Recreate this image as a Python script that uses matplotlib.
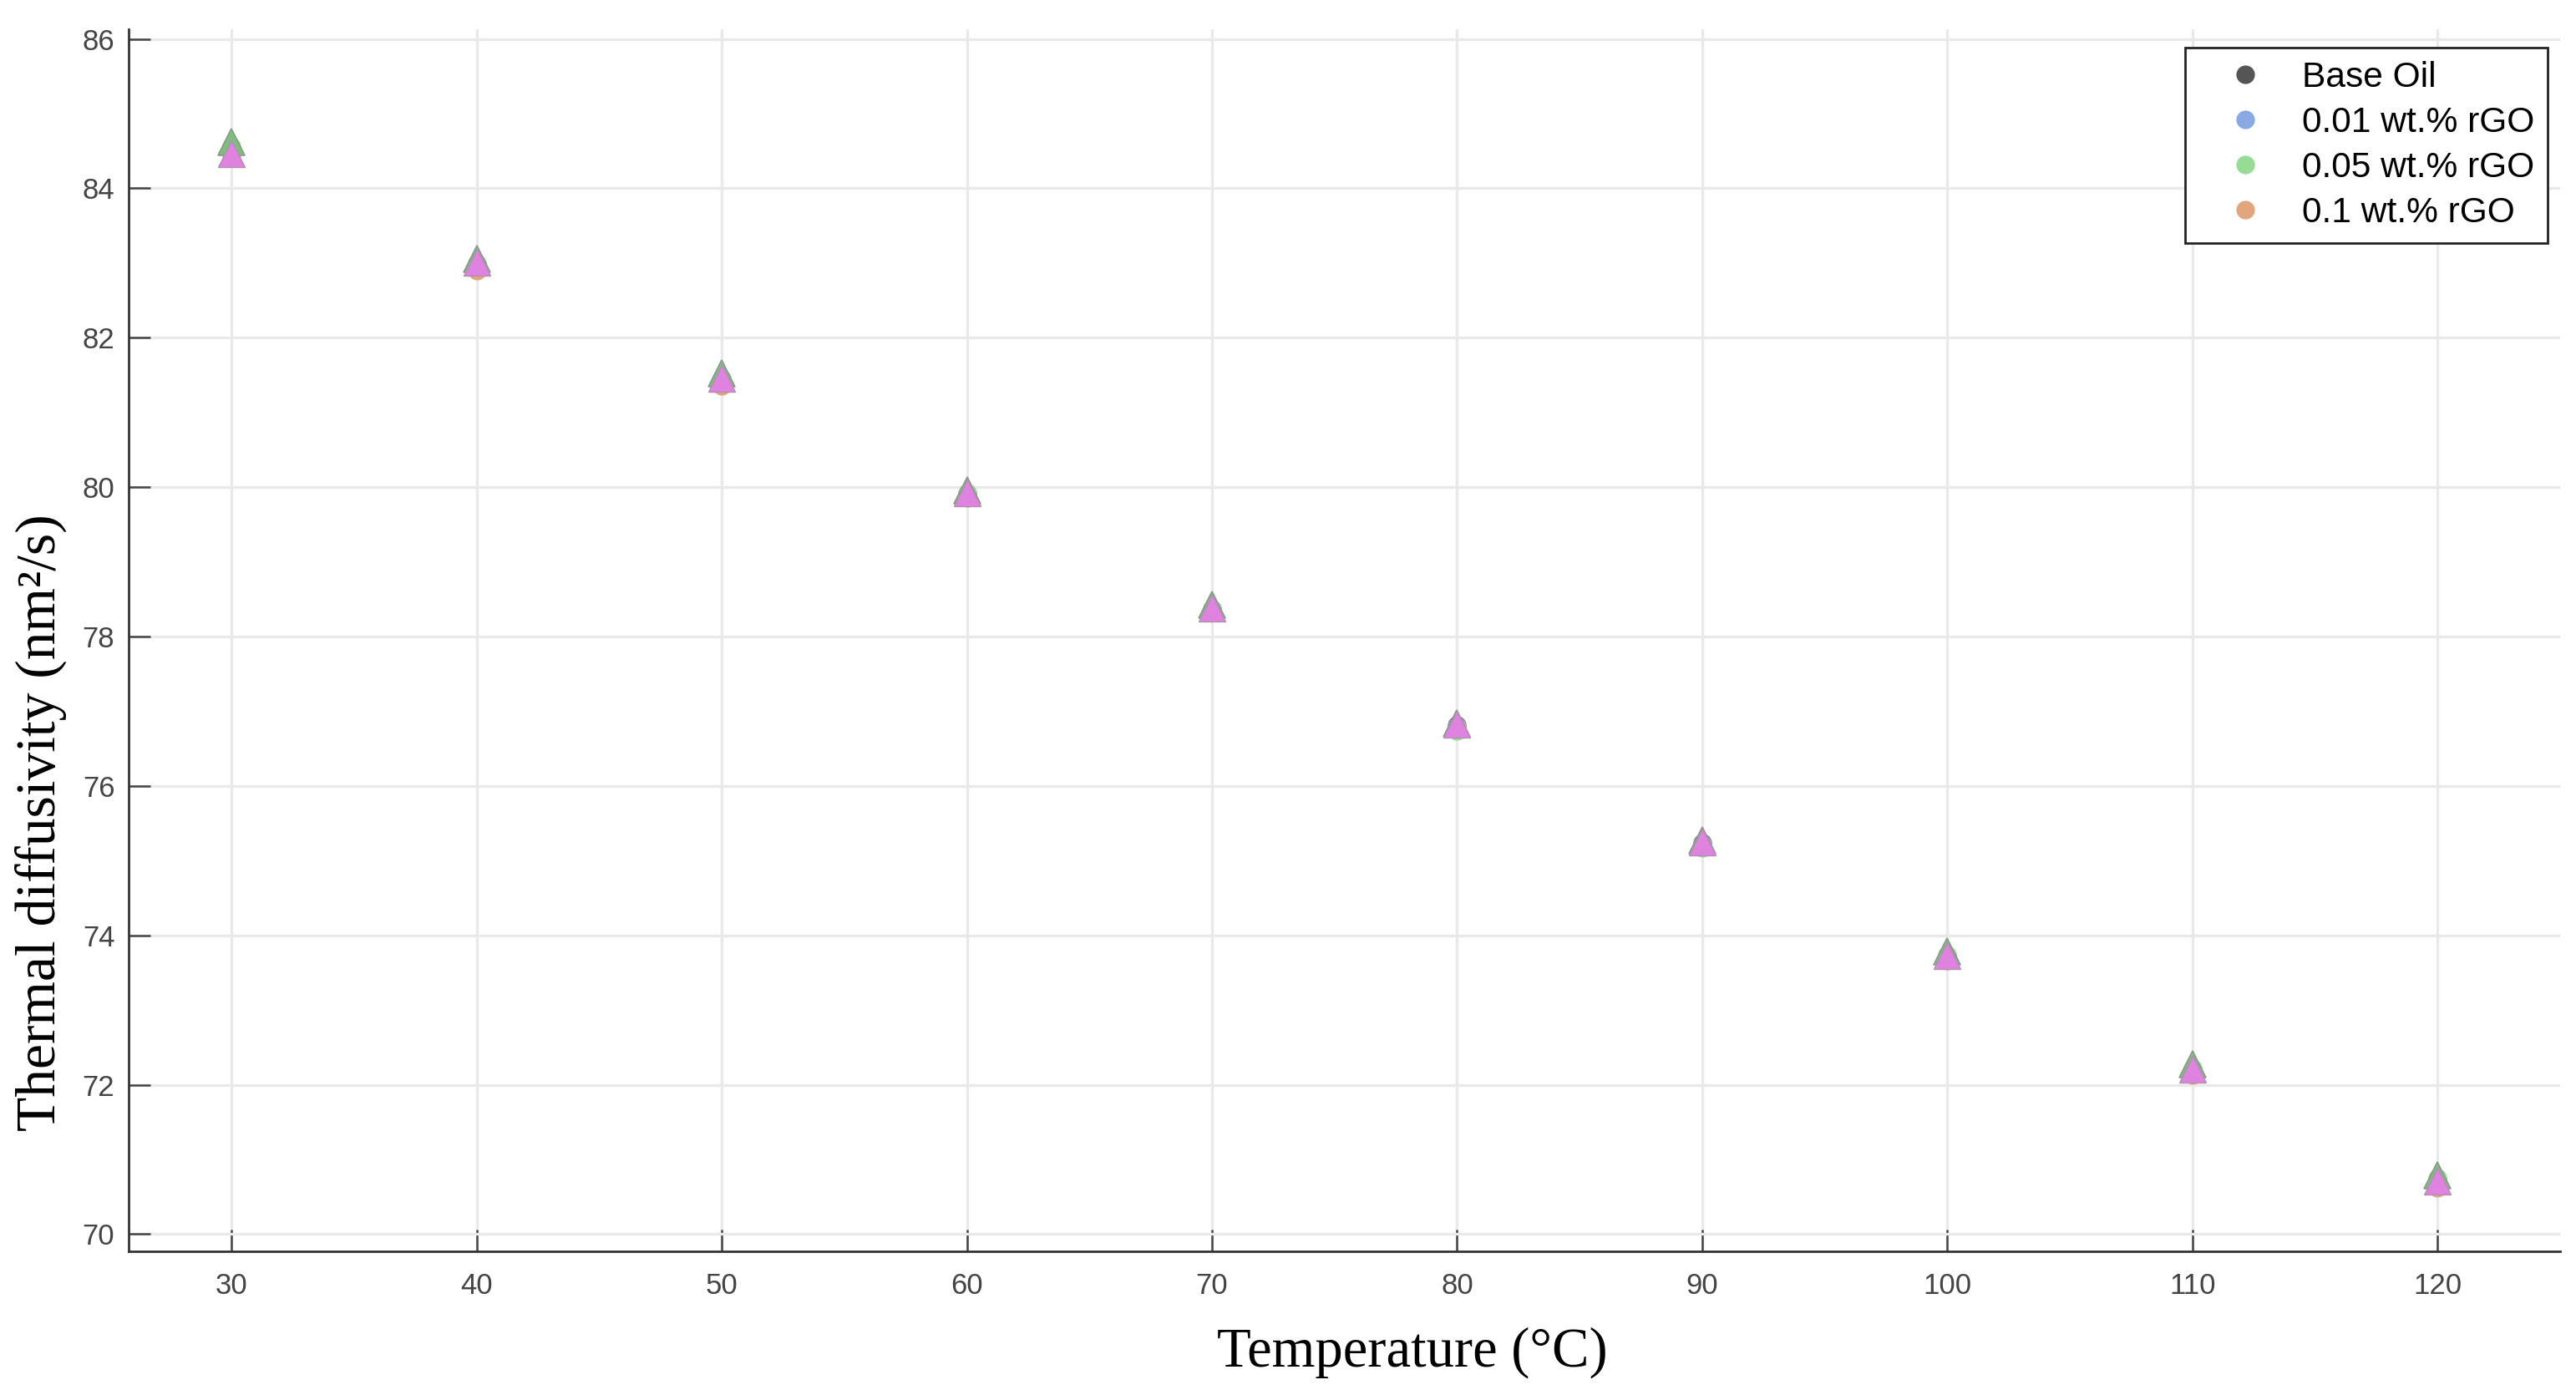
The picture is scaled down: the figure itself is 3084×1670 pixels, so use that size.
import matplotlib
matplotlib.use("Agg")
import matplotlib.pyplot as plt

# ---- data ----
temperature = [30, 40, 50, 60, 70, 80, 90, 100, 110, 120]
base_oil   = [84.53, 82.99, 81.45, 79.91, 78.37, 76.81, 75.24, 73.73, 72.21, 70.73]
rgo_001    = [84.52, 82.98, 81.44, 79.90, 78.36, 76.80, 75.23, 73.72, 72.20, 70.72]
rgo_005    = [84.56, 83.00, 81.46, 79.92, 78.37, 76.74, 75.17, 73.74, 72.22, 70.75]
rgo_01     = [84.44, 82.90, 81.35, 79.86, 78.32, 76.78, 75.21, 73.66, 72.13, 70.62]
# triangle overlays (not in legend)
tri_green  = [84.62, 83.06, 81.52, 79.96, 78.42, 76.84, 75.27, 73.78, 72.28, 70.79]
tri_pink   = [84.46, 83.01, 81.46, 79.92, 78.38, 76.83, 75.25, 73.73, 72.21, 70.71]

series_labels = ["Base Oil", "0.01 wt.% rGO", "0.05 wt.% rGO", "0.1 wt.% rGO"]
series_colors = ["#555555", "#8aa8e2", "#95dc95", "#e2a67f"]
x_ticks = [30, 40, 50, 60, 70, 80, 90, 100, 110, 120]
y_ticks = [70, 72, 74, 76, 78, 80, 82, 84, 86]

W, H, DPI = 3084, 1670, 200
fig = plt.figure(figsize=(W / DPI, H / DPI), dpi=DPI)
ax = fig.add_axes([154 / W, 1 - 1498 / H, (3065 - 154) / W, (1498 - 35) / H])

for vals, lab, col in zip([base_oil, rgo_001, rgo_005, rgo_01], series_labels, series_colors):
    ax.plot(temperature, vals, linestyle="none", marker="o", markersize=8,
            markerfacecolor=col, markeredgecolor="none", label=lab, zorder=3)

ax.plot(temperature, tri_green, linestyle="none", marker="^", markersize=11.5,
        markerfacecolor="#7cbf7c", markeredgecolor="#8a9a8a", markeredgewidth=0.6, zorder=4)
ax.plot(temperature, tri_pink, linestyle="none", marker="^", markersize=11.5,
        markerfacecolor="#e082e0", markeredgecolor="#b090b0", markeredgewidth=0.5, zorder=5)

ax.set_xlim(25.8, 125.0)
ax.set_ylim(69.77, 86.13)
ax.set_xticks(x_ticks)
ax.set_yticks(y_ticks)
ax.grid(True, color="#e9e9e9", linewidth=1.2, zorder=0)
ax.set_axisbelow(True)

for s in ["top", "right"]:
    ax.spines[s].set_visible(False)
for s in ["left", "bottom"]:
    ax.spines[s].set_color("#333333")
    ax.spines[s].set_linewidth(1.0)

ax.tick_params(axis="both", direction="in", length=9.5, width=0.9, color="#444444",
               labelcolor="#444444", labelsize=12.5)
ax.tick_params(axis="x", pad=9)
ax.tick_params(axis="y", pad=6)
for t in ax.get_xticklabels() + ax.get_yticklabels():
    t.set_fontfamily("Liberation Sans")

ax.set_xlabel("Temperature (°C)", fontfamily="Liberation Serif", fontsize=24, va="center")
ax.xaxis.set_label_coords(0.528, -0.0827)
ax.set_ylabel("Thermal diffusivity (nm²/s)", fontfamily="Liberation Serif", fontsize=24.3, va="center")
ax.yaxis.set_label_coords(-0.036, 0.3506)

leg = ax.legend(loc="upper right", bbox_to_anchor=((3050 - 154) / 2911, 1 - (57 - 35) / 1463),
                borderaxespad=0, frameon=True, fancybox=False, framealpha=1,
                edgecolor="#222222", prop={"family": "Liberation Sans", "size": 15.3},
                handlelength=2.6, handletextpad=0.3, borderpad=0.38, labelspacing=0.33,
                markerscale=1.0)
leg.get_frame().set_linewidth(1.0)
leg.set_zorder(10)

fig.savefig("out.png", dpi=DPI, facecolor="white")
